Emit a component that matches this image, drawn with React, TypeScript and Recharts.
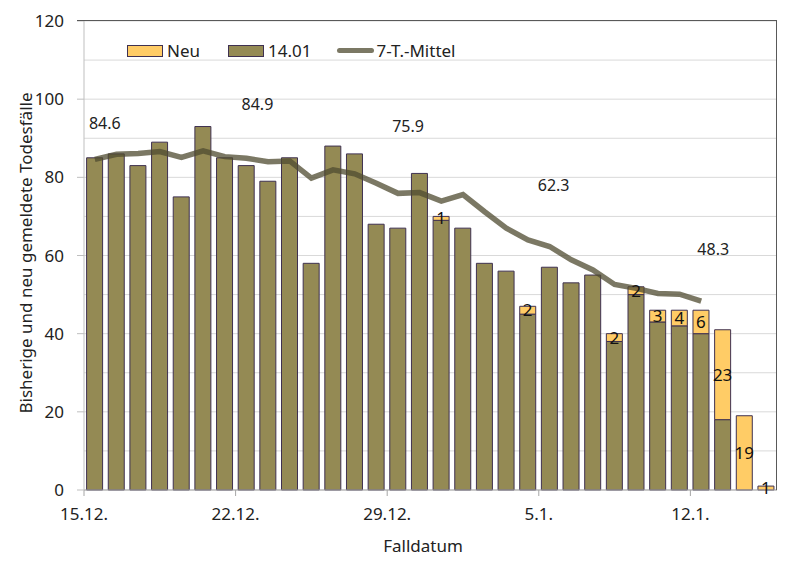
import React from 'react';
import { ComposedChart, Bar, Line, XAxis, YAxis, CartesianGrid, LabelList } from 'recharts';

// Falldatum 15.12. – 15.1.
const dates = [
  '15.12.', '16.12.', '17.12.', '18.12.', '19.12.', '20.12.', '21.12.', '22.12.',
  '23.12.', '24.12.', '25.12.', '26.12.', '27.12.', '28.12.', '29.12.', '30.12.',
  '31.12.', '1.1.', '2.1.', '3.1.', '4.1.', '5.1.', '6.1.', '7.1.',
  '8.1.', '9.1.', '10.1.', '11.1.', '12.1.', '13.1.', '14.1.', '15.1.',
];
const shownTicks = ['15.12.', '22.12.', '29.12.', '5.1.', '12.1.'];

// bisher gemeldet (Stand 14.01)
const stand1401 = [
  85, 86, 83, 89, 75, 93, 85, 83, 79, 85, 58, 88, 86, 68, 67, 81,
  69, 67, 58, 56, 45, 57, 53, 55, 38, 50, 43, 42, 40, 18, 0, 0,
];
// neu gemeldet
const neu = [
  0, 0, 0, 0, 0, 0, 0, 0, 0, 0, 0, 0, 0, 0, 0, 0,
  1, 0, 0, 0, 2, 0, 0, 0, 2, 2, 3, 4, 6, 23, 19, 1,
];
// 7-Tage-Mittel
const mittel = [
  84.6, 85.9, 86.1, 86.6, 85.1, 86.8, 85.3, 84.9, 84.0, 84.2, 79.8, 81.9, 80.9, 78.5, 75.9, 76.1,
  73.9, 75.6, 71.2, 67.0, 64.0, 62.3, 58.9, 56.3, 52.6, 51.6, 50.3, 50.1, 48.3,
];
const labelledDays = [0, 7, 14, 21, 28];

const data = dates.map((d, i) => ({
  date: d,
  alt: stand1401[i] || null,
  neu: neu[i] || null,
  mittel: i < mittel.length ? mittel[i] : null,
}));

const W = 803;
const H = 573;
const X_H = 30;
const M = { top: 21, right: 26, bottom: 83 - X_H, left: 0 };
const Y_W = 84;
const band = (W - M.left - M.right - Y_W) / dates.length;
const FONT = '"Noto Sans", sans-serif';
const FS = 17;
const OLIVE = '#948a54';
const GOLD = '#ffcc66';
const EDGE = '#3f3151';
const LINE = '#4f4b30';

// label nudges (dx, dy) so the averages sit like in the original
const labelNudge: Record<number, [number, number]> = {
  0: [10, -36], 7: [11, -54], 14: [10, -67], 21: [4, -62], 28: [12, -52],
};

const XTick = ({ x, y, payload }: any) => {
  if (!shownTicks.includes(payload.value)) return null;
  const lx = x - band / 2;
  return (
    <g>
      <line x1={lx} x2={lx} y1={y - 8} y2={y - 2} stroke="#a6a6a6" />
      <text x={lx} y={y + 22} textAnchor="middle" fontSize={FS} fontFamily={FONT} fill="#222">
        {payload.value}
      </text>
    </g>
  );
};

const YTick = ({ y, payload }: any) => {
  if (payload.value % 20 !== 0) return null;
  return (
    <g>
      <line x1={Y_W - 7} x2={Y_W} y1={y} y2={y} stroke="#bfbfbf" />
      <text x={64} y={y + 6} textAnchor="end" fontSize={FS} fontFamily={FONT} fill="#222">
        {payload.value}
      </text>
    </g>
  );
};

const MittelLabel = ({ x, y, value, index }: any) => {
  if (!labelledDays.includes(index)) return null;
  const [dx, dy] = labelNudge[index];
  return (
    <text x={x + dx} y={y + dy + 6} textAnchor="middle" fontSize={16} fontFamily={FONT} fill="#222">
      {Number(value).toFixed(1)}
    </text>
  );
};

const NeuLabel = ({ x, y, width, height, value }: any) => {
  if (!value) return null;
  return (
    <text x={x + width / 2} y={y + height / 2 + 6} textAnchor="middle" fontSize={FS} fontFamily={FONT} fill="#111">
      {value}
    </text>
  );
};

const LegendBox = () => (
  <div
    style={{
      position: 'absolute',
      left: 127,
      top: 39,
      display: 'flex',
      alignItems: 'center',
      fontFamily: FONT,
      fontSize: FS,
      color: '#222',
      whiteSpace: 'nowrap',
    }}
  >
    <span style={{ width: 34, height: 10, background: GOLD, border: `1px solid ${EDGE}`, marginRight: 4 }} />
    <span style={{ marginRight: 28 }}>Neu</span>
    <span style={{ width: 34, height: 10, background: OLIVE, border: `1px solid ${EDGE}`, marginRight: 4 }} />
    <span style={{ marginRight: 26 }}>14.01</span>
    <span style={{ width: 37, height: 5, background: LINE, opacity: 0.75, borderRadius: 3, marginRight: 2 }} />
    <span>7-T.-Mittel</span>
  </div>
);

const App = () => {
  return (
    <div style={{ position: 'absolute', left: 0, top: 0, width: W, height: H, background: '#fff' }}>
      <ComposedChart width={W} height={H} data={data} margin={M} barCategoryGap="12%">
        <CartesianGrid horizontal vertical={false} stroke="#d9d9d9" />
        <XAxis
          dataKey="date"
          height={X_H}
          interval={0}
          tick={<XTick />}
          tickLine={false}
          axisLine={{ stroke: '#a6a6a6' }}
        />
        <YAxis
          width={Y_W}
          domain={[0, 120]}
          ticks={[0, 10, 20, 30, 40, 50, 60, 70, 80, 90, 100, 110, 120]}
          tick={<YTick />}
          tickLine={false}
          axisLine={{ stroke: '#bfbfbf' }}
          interval={0}
        />
        <Bar dataKey="alt" stackId="a" fill={OLIVE} stroke={EDGE} strokeWidth={1} isAnimationActive={false} />
        <Bar dataKey="neu" stackId="a" fill={GOLD} stroke={EDGE} strokeWidth={1} isAnimationActive={false}>
          <LabelList dataKey="neu" content={<NeuLabel />} />
        </Bar>
        <Line
          dataKey="mittel"
          stroke={LINE}
          strokeOpacity={0.75}
          strokeWidth={5.5}
          dot={false}
          type="linear"
          isAnimationActive={false}
        >
          <LabelList dataKey="mittel" content={<MittelLabel />} />
        </Line>
      </ComposedChart>
      <LegendBox />
      {/* plot frame: dark top and right edge */}
      <div
        style={{
          position: 'absolute',
          left: Y_W - 7,
          top: M.top - 1,
          width: W - M.right - Y_W + 7,
          height: H - M.top - 83 + 1,
          borderTop: '1.5px solid #595959',
          borderRight: '1.5px solid #595959',
          boxSizing: 'border-box',
          pointerEvents: 'none',
        }}
      />
      <div
        style={{
          position: 'absolute',
          left: 25,
          top: 253,
          transform: 'translate(-50%, -50%) rotate(-90deg)',
          whiteSpace: 'nowrap',
          fontFamily: FONT,
          fontSize: FS,
          color: '#222',
        }}
      >
        Bisherige und neu gemeldete Todesfälle
      </div>
      <div
        style={{
          position: 'absolute',
          left: 423,
          top: 545,
          transform: 'translate(-50%, -50%)',
          fontFamily: FONT,
          fontSize: FS,
          color: '#222',
        }}
      >
        Falldatum
      </div>
    </div>
  );
};

export default App;
